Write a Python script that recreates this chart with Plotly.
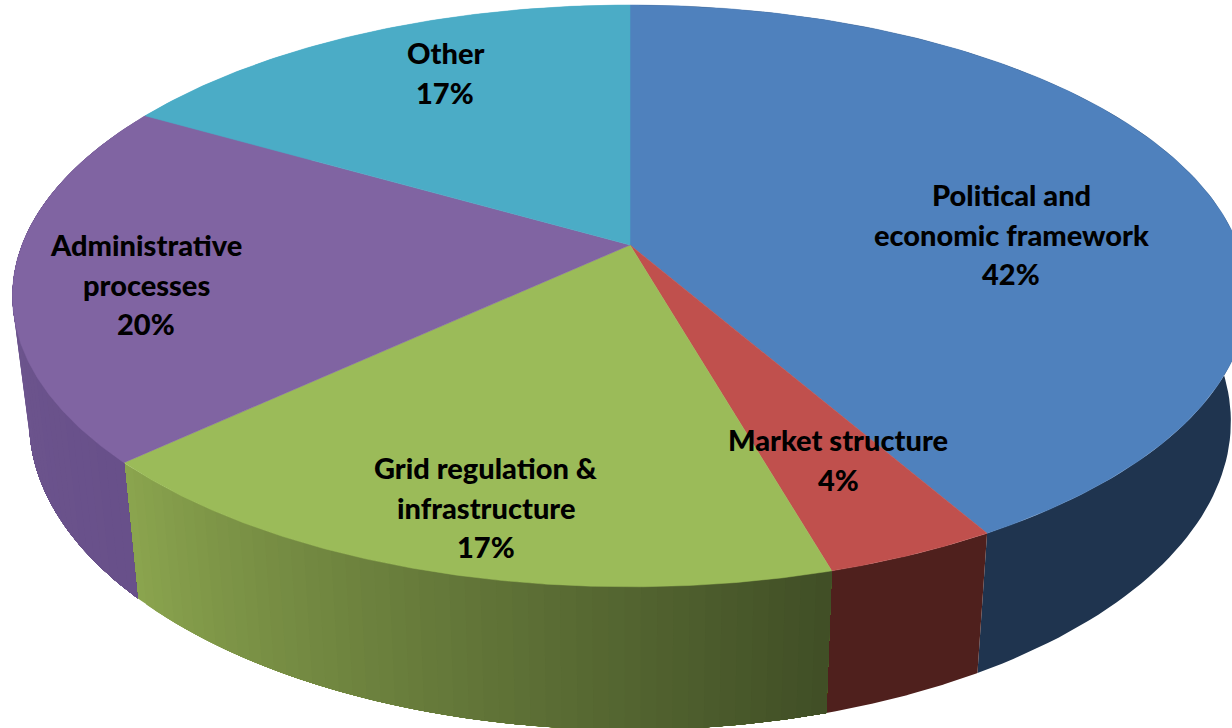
import numpy as np
import plotly.graph_objects as go

categories = ["Political and economic framework", "Market structure",
              "Grid regulation & infrastructure", "Administrative processes", "Other"]
values = [41.7, 3.85, 17.55, 20.2, 16.7]
shown_percent = ["42%", "4%", "17%", "20%", "17%"]
label_lines = [["Political and", "economic framework"], ["Market structure"],
               ["Grid regulation &", "infrastructure"], ["Administrative", "processes"], ["Other"]]
label_centers = [(1011, 194.5), (838, 439.5), (486, 467.5), (146, 244.5), (445, 52.5)]
top_colors = ["#4F81BD", "#C0504D", "#9BBB59", "#8064A2", "#4BACC6"]
side_left = ["#1F344F", "#4F201D", "#8AA44E", "#735B92", "#4BACC6"]
side_right = ["#1F344F", "#4F201D", "#414F26", "#68508A", "#4BACC6"]

APEX_X, APEX_Y = 630, 245
A, B, K = 608, 282, 0.175
SCALE_X, SCALE_Y, DROP = 0.973, 1.06, 122.5
LINE_STEP = 39.5


def rim(theta):
    u, v = np.sin(theta), np.cos(theta)
    w = 1 + K * v
    return APEX_X + A * u / w, APEX_Y - B * v / w


def lower(x, y):
    return APEX_X + SCALE_X * (x - APEX_X), APEX_Y + SCALE_Y * (y - APEX_Y) + DROP


def mix(c1, c2, t):
    a = [int(c1[i:i + 2], 16) for i in (1, 3, 5)]
    b = [int(c2[i:i + 2], 16) for i in (1, 3, 5)]
    return "rgb(%d,%d,%d)" % tuple(round(p + (q - p) * t) for p, q in zip(a, b))


edges = 2 * np.pi * np.concatenate([[0], np.cumsum(values)]) / sum(values)
fig = go.Figure()

# side wall: each strip runs to the slice's far end, and the next one paints over it,
# so the shading carries no seams
for i in range(len(values)):
    t0, t1 = edges[i], edges[i + 1]
    n = 1 if side_left[i] == side_right[i] else 50
    ts = np.linspace(t1, t0, n + 1)  # left to right on the front rim
    for j in range(n):
        seg = np.linspace(ts[j], t0, 120)
        x, y = rim(seg)
        xb, yb = lower(x, y)
        c = mix(side_left[i], side_right[i], j / max(n - 1, 1))
        fig.add_trace(go.Scatter(
            x=np.concatenate([x, xb[::-1]]), y=np.concatenate([y, yb[::-1]]),
            mode="lines", fill="toself", fillcolor=c,
            line=dict(width=0), hoverinfo="skip", showlegend=False))

# top faces
for i, name in enumerate(categories):
    seg = np.linspace(edges[i], edges[i + 1], 200)
    x, y = rim(seg)
    fig.add_trace(go.Scatter(
        x=np.concatenate([[APEX_X], x, [APEX_X]]), y=np.concatenate([[APEX_Y], y, [APEX_Y]]),
        mode="lines", fill="toself", fillcolor=top_colors[i],
        line=dict(color=top_colors[i], width=0.5), name=name, showlegend=False))

# labels
for lines, pct, (cx, cy) in zip(label_lines, shown_percent, label_centers):
    for k, text in enumerate(lines + [pct]):
        fig.add_annotation(x=cx, y=cy + k * LINE_STEP, text=text, showarrow=False,
                           xanchor="center", yanchor="middle",
                           font=dict(family="Lato, Carlito, sans-serif", size=29, color="black",
                                     weight=900))

fig.update_layout(
    width=1232, height=728, autosize=False,
    margin=dict(l=0, r=0, t=0, b=0),
    paper_bgcolor="white", plot_bgcolor="white", showlegend=False,
    xaxis=dict(range=[0, 1232], visible=False, fixedrange=True),
    yaxis=dict(range=[728, 0], visible=False, fixedrange=True),
)
fig.write_html("out.html", config=dict(displayModeBar=False),
               post_script="document.body.style.margin='0';document.body.style.overflow='hidden';")
